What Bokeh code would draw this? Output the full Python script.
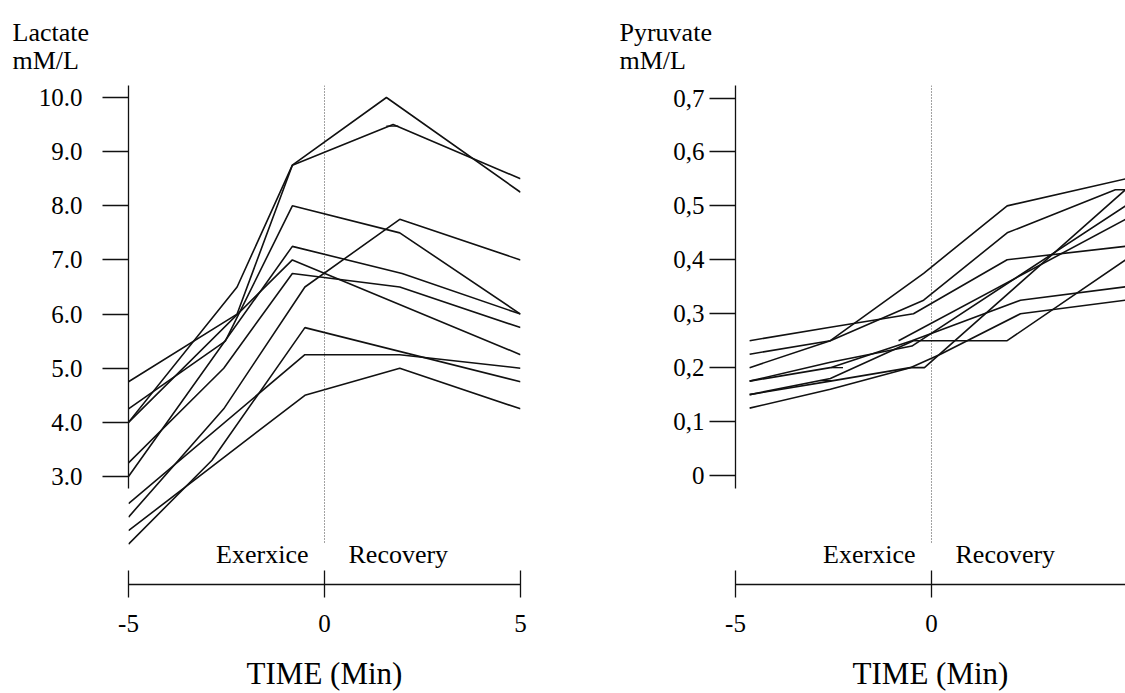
from bokeh.plotting import figure
from bokeh.layouts import row
from bokeh.models import (Label, Title, FixedTicker, PrintfTickFormatter,
                          CustomJSTickFormatter, Range1d)
from bokeh.embed import file_html
from bokeh.resources import INLINE

# ---------------- data ----------------
time_ticks = [-5, 0, 5]
lactate_ticks = [3, 4, 5, 6, 7, 8, 9, 10]
pyruvate_ticks = [0, 0.1, 0.2, 0.3, 0.4, 0.5, 0.6, 0.7]

# Lactate (mM/L), one list per subject
lactate_times = [
    [-5, -2.23, -0.82, 1.58, 5],
    [-5, -2.23, -0.82, 1.75, 5],
    [-5, -2.53, -0.82, 1.92, 5],
    [-5, -0.82, 1.98, 5],
    [-5, -2.57, -0.82, 1.92, 5],
    [-5, -0.82, 5],
    [-5, -2.57, -0.5, 1.92, 5],
    [-5, -2.87, -0.5, 5],
    [-5, -0.5, 1.92, 5],
    [-5, -0.5, 1.92, 5],
]
lactate_values = [
    [4.0, 6.5, 8.75, 10.0, 8.25],
    [4.75, 6.0, 8.75, 9.5, 8.5],
    [4.25, 5.5, 8.0, 7.5, 6.0],
    [3.0, 7.25, 6.75, 6.0],
    [3.25, 5.0, 6.75, 6.5, 5.75],
    [4.0, 7.0, 5.25],
    [2.25, 4.25, 6.5, 7.75, 7.0],
    [1.75, 3.3, 5.75, 4.75],
    [2.5, 5.25, 5.25, 5.0],
    [2.0, 4.5, 5.0, 4.25],
]
lactate_marks_t = [1.73]
lactate_marks_v = [9.47]

# Pyruvate (mM/L), one list per subject
pyruvate_times = [
    [-4.64, -2.58, -0.2, 1.93, 4.95],
    [-4.64, -2.58, -0.2, 1.93, 4.69, 4.95],
    [-4.64, -2.58, -0.46, 1.93, 4.95],
    [-4.64, -2.58, -0.5, 2.27, 4.95],
    [-4.64, -2.58, -0.54, 0.23, 2.27, 4.95],
    [-4.64, -2.58, -0.46, 1.93, 4.95],
    [-4.64, -2.58, -0.54, -0.18, 4.95],
    [-4.64, -2.58, -0.5, 4.95],
    [-0.84, 4.95],
]
pyruvate_values = [
    [0.225, 0.25, 0.375, 0.50, 0.55],
    [0.20, 0.25, 0.325, 0.45, 0.53, 0.53],
    [0.25, 0.275, 0.30, 0.40, 0.425],
    [0.175, 0.20, 0.25, 0.325, 0.35],
    [0.15, 0.175, 0.20, 0.225, 0.30, 0.325],
    [0.15, 0.18, 0.25, 0.25, 0.40],
    [0.125, 0.16, 0.20, 0.20, 0.53],
    [0.175, 0.21, 0.24, 0.50],
    [0.25, 0.475],
]
pyruvate_marks_t = [-2.41, -2.7]
pyruvate_marks_v = [0.2, 0.176]

FONT = "Liberation Serif"
INK = "#111111"
H = 693


def make_panel(width, border_left, border_right, x_end, y_lo, y_hi, y_axis_lo,
               dot_lo, ticks, formatter, standoff_y, name_text, times, values,
               marks_t, marks_v, x_bounds):
    p = figure(width=width, height=H, x_range=Range1d(-5, x_end),
               y_range=Range1d(y_lo, y_hi), output_backend="svg",
               toolbar_location=None, title=None,
               min_border_left=border_left, min_border_right=border_right,
               min_border_top=85, min_border_bottom=109)
    p.grid.visible = False
    p.outline_line_color = None
    p.background_fill_color = "white"
    p.border_fill_color = "white"

    # y axis
    ya = p.yaxis[0]
    ya.ticker = FixedTicker(ticks=ticks)
    ya.formatter = formatter
    ya.bounds = (y_axis_lo, y_hi)
    ya.major_tick_in = 0
    ya.major_tick_out = 26
    ya.minor_tick_in = 0
    ya.minor_tick_out = 0
    ya.major_label_standoff = standoff_y
    ya.axis_line_width = 1.3
    ya.major_tick_line_width = 1.3
    ya.axis_line_color = INK
    ya.major_tick_line_color = INK
    ya.major_label_text_font = FONT
    ya.major_label_text_font_size = "25px"
    ya.major_label_text_color = "black"

    # x axis
    xa = p.xaxis[0]
    xa.ticker = FixedTicker(ticks=time_ticks)
    xa.formatter = CustomJSTickFormatter(code="return String(tick);")
    xa.bounds = x_bounds
    xa.major_tick_in = 14
    xa.major_tick_out = 13
    xa.minor_tick_in = 0
    xa.minor_tick_out = 0
    xa.major_label_standoff = 17
    xa.axis_line_width = 1.3
    xa.major_tick_line_width = 1.3
    xa.axis_line_color = INK
    xa.major_tick_line_color = INK
    xa.major_label_text_font = FONT
    xa.major_label_text_font_size = "25px"
    xa.major_label_text_color = "black"
    xa.axis_label = "TIME (Min)"
    xa.axis_label_text_font = FONT
    xa.axis_label_text_font_size = "31px"
    xa.axis_label_text_font_style = "normal"
    xa.axis_label_text_color = "black"
    xa.axis_label_standoff = 21

    # dotted separator between exercise and recovery
    p.segment(x0=[0], y0=[y_hi], x1=[0], y1=[dot_lo], line_dash="1 2",
              line_color="#444444", line_width=1)

    for t, v in zip(times, values):
        p.line(t, v, line_color=INK, line_width=1.6)
    p.scatter(marks_t, marks_v, marker="dash", size=12, line_color=INK,
              line_width=1.3)

    # quantity and unit, above the value axis
    p.add_layout(Title(text=name_text, align="left", offset=-116,
                       standoff=21, text_font=FONT, text_font_size="26px",
                       text_font_style="normal", text_color="black",
                       text_line_height=0.95), "above")

    p.add_layout(Label(x=0, y=y_lo, x_offset=-16, y_offset=30, text="Exerxice",
                       text_font=FONT, text_font_size="26px", text_color="black",
                       text_baseline="alphabetic", text_align="right"))
    p.add_layout(Label(x=0, y=y_lo, x_offset=24, y_offset=30, text="Recovery",
                       text_font=FONT, text_font_size="26px", text_color="black",
                       text_baseline="alphabetic", text_align="left"))
    return p


left = make_panel(width=608, border_left=128, border_right=88, x_end=5,
                  y_lo=1.005, y_hi=10.222, y_axis_lo=2.78, dot_lo=1.76,
                  ticks=lactate_ticks,
                  formatter=PrintfTickFormatter(format="%.1f"), standoff_y=20,
                  name_text="Lactate\nmM/L", times=lactate_times,
                  values=lactate_values, marks_t=lactate_marks_t,
                  marks_v=lactate_marks_v, x_bounds=(-5, 5))

right = make_panel(width=517, border_left=127, border_right=0, x_end=4.949,
                   y_lo=-0.2021, y_hi=0.7232, y_axis_lo=-0.024, dot_lo=-0.125,
                   ticks=pyruvate_ticks,
                   formatter=CustomJSTickFormatter(
                       code="return tick == 0 ? '0' : tick.toFixed(1).replace('.', ',');"),
                   standoff_y=5, name_text="Pyruvate\nmM/L",
                   times=pyruvate_times, values=pyruvate_values,
                   marks_t=pyruvate_marks_t, marks_v=pyruvate_marks_v,
                   x_bounds="auto")

layout = row(left, right, spacing=0)
open("out.html", "w").write(file_html(layout, INLINE))
